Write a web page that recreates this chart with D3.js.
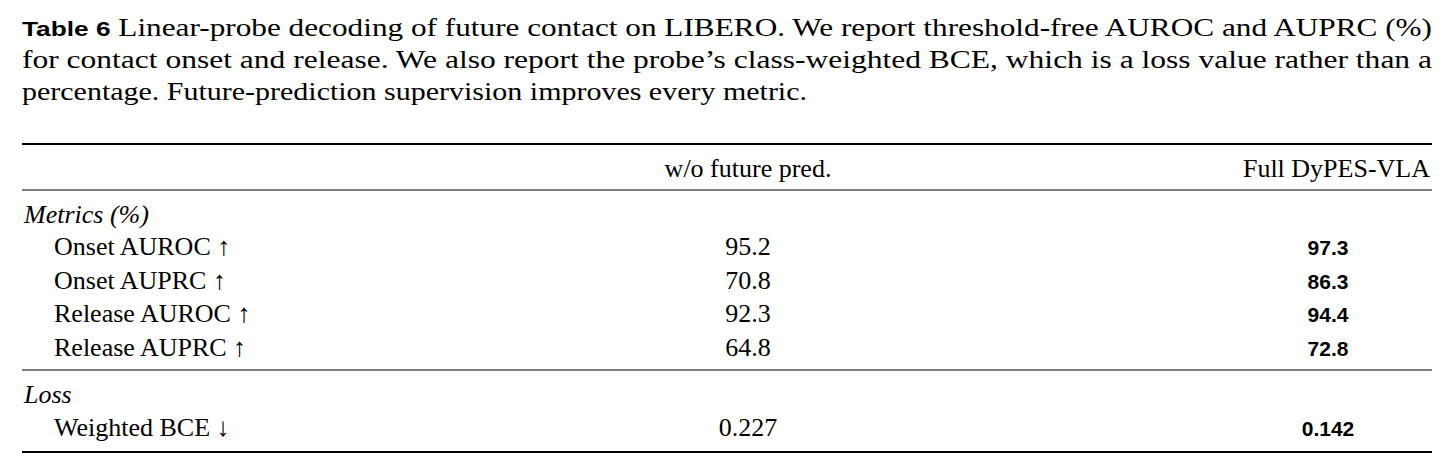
<!DOCTYPE html>
<html><head><meta charset="utf-8">
<script src="https://cdn.jsdelivr.net/npm/d3@7"></script>
<style>body{margin:0;background:#fff}</style>
</head><body>
<script>
const captionLines = [
  ["Table 6", " Linear-probe decoding of future contact on LIBERO. We report threshold-free AUROC and AUPRC (%)"],
  ["", "for contact onset and release.  We also report the probe\u2019s class-weighted BCE, which is a loss value rather than a"],
  ["", "percentage. Future-prediction supervision improves every metric."]
];
const captionWidths = [1410, 1410, 785];
const columns = ["w/o future pred.", "Full DyPES-VLA"];
const sections = ["Metrics (%)", "Loss"];
const metricRows = ["Onset AUROC \u2191", "Onset AUPRC \u2191", "Release AUROC \u2191", "Release AUPRC \u2191"];
const withoutFuture = ["95.2", "70.8", "92.3", "64.8"];
const fullModel = ["97.3", "86.3", "94.4", "72.8"];
const lossRows = ["Weighted BCE \u2193"];
const lossWithout = ["0.227"];
const lossFull = ["0.142"];

const W = 1455, H = 474;
const svg = d3.select("body").append("svg").attr("width", W).attr("height", H);
const serif = "'Liberation Serif', 'DejaVu Serif', serif";
const sans = "'Liberation Sans', Arial, sans-serif";
const FS = 26;

const cy = d3.scalePoint().domain(d3.range(captionLines.length)).range([36, 100]);
captionLines.forEach((l, i) => {
  const t = svg.append("text").attr("x", 22).attr("y", cy(i)).attr("font-size", 25)
    .attr("font-family", serif).attr("textLength", captionWidths[i]).attr("lengthAdjust", "spacingAndGlyphs");
  if (l[0]) t.append("tspan").attr("font-family", sans).attr("font-weight", "bold").attr("font-size", 21).text(l[0]);
  t.append("tspan").text(l[1]);
});

const rowLabels = ["header", "sec0", ...metricRows, "sec1", ...lossRows];
const baseline = d3.scaleOrdinal().domain(rowLabels)
  .range([177, 223, 255, 289, 322, 356, 403, 436]);

const x0 = 22, x1 = 1432;
function rule(yv, w) { svg.append("line").attr("x1", x0).attr("x2", x1).attr("y1", yv).attr("y2", yv).attr("stroke", "#000").attr("stroke-width", w); }
rule(144, 2.2); rule(190, 1.2); rule(370, 1.2); rule(452, 2.2);

const colX = d3.scaleOrdinal().domain(columns).range([748, 1328]);
svg.append("text").attr("x", colX(columns[0])).attr("y", baseline("header")).attr("text-anchor", "middle")
  .attr("font-family", serif).attr("font-size", FS).text(columns[0]);
svg.append("text").attr("x", 1430).attr("y", baseline("header")).attr("text-anchor", "end")
  .attr("font-family", serif).attr("font-size", FS).text(columns[1]);

sections.forEach((s, i) => svg.append("text").attr("x", 24).attr("y", baseline("sec" + i))
  .attr("font-family", serif).attr("font-style", "italic").attr("font-size", FS).text(s));

function rows(labels, a, b) {
  labels.forEach((r, i) => {
    const yy = baseline(r);
    svg.append("text").attr("x", 54).attr("y", yy).attr("font-family", serif).attr("font-size", FS).text(r);
    svg.append("text").attr("x", colX(columns[0])).attr("y", yy).attr("text-anchor", "middle")
      .attr("font-family", serif).attr("font-size", FS).text(a[i]);
    svg.append("text").attr("x", colX(columns[1])).attr("y", yy).attr("text-anchor", "middle")
      .attr("font-family", sans).attr("font-weight", "bold").attr("font-size", 21).text(b[i]);
  });
}
rows(metricRows, withoutFuture, fullModel);
rows(lossRows, lossWithout, lossFull);
</script>
</body></html>
